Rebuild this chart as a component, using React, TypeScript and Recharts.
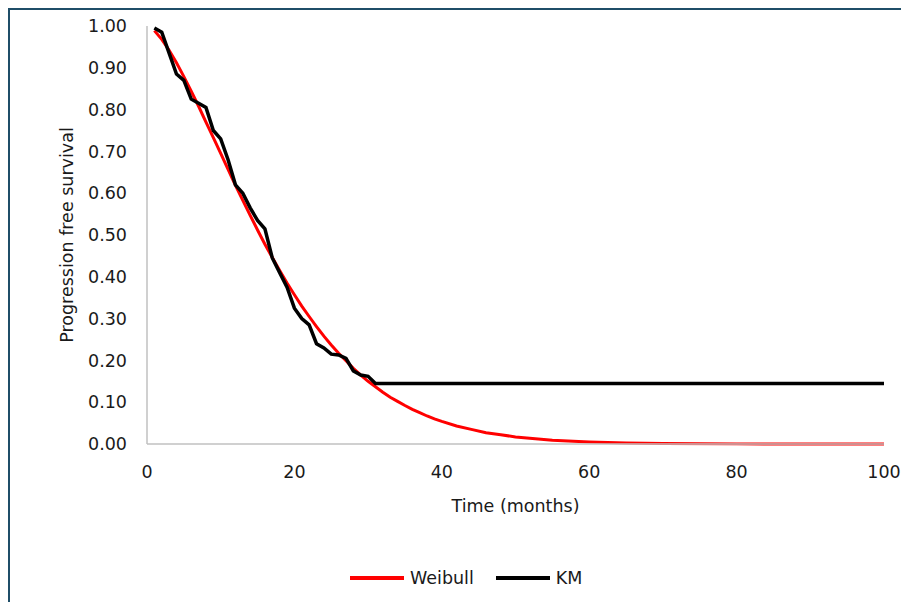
import { Label, Line, LineChart, XAxis, YAxis } from "recharts";

// KM estimate (months, survival)
const kmMonths = [1, 2, 3, 4, 5, 6, 7, 8, 9, 10, 11, 12, 13, 14, 15, 16, 17, 18, 19, 20, 21, 22, 23, 24, 25, 26, 27, 28, 29, 30, 31, 100];
const kmSurvival = [
  0.995, 0.985, 0.935, 0.885, 0.87, 0.825, 0.815, 0.805, 0.75, 0.73, 0.68, 0.62, 0.6, 0.565, 0.535, 0.515,
  0.445, 0.41, 0.375, 0.325, 0.3, 0.285, 0.24, 0.23, 0.215, 0.213, 0.205, 0.175, 0.165, 0.162, 0.145, 0.145,
];

// fitted Weibull curve
const weibullMonths = [
  1, 2, 3, 4, 5, 6, 7, 8, 9, 10, 11, 12, 13, 14, 15, 16, 17, 18, 19, 20, 21, 22, 23, 24, 25, 26, 27, 28, 29, 30,
  31, 32, 33, 34, 35, 36, 37, 38, 39, 40, 42, 44, 46, 48, 50, 55, 60, 65, 70, 80, 90, 100,
];
const weibullSurvival = [
  0.989, 0.968, 0.942, 0.912, 0.879, 0.844, 0.808, 0.77, 0.733, 0.695, 0.657, 0.619, 0.583, 0.547, 0.512,
  0.478, 0.446, 0.415, 0.385, 0.357, 0.33, 0.305, 0.281, 0.258, 0.237, 0.217, 0.199, 0.181, 0.165, 0.15,
  0.137, 0.124, 0.112, 0.102, 0.092, 0.083, 0.075, 0.067, 0.06, 0.054, 0.043, 0.035, 0.027, 0.022, 0.017,
  0.009, 0.005, 0.0024, 0.0012, 0.0003, 0.0001, 0,
];

const xTicks = [0, 20, 40, 60, 80, 100];
const yTicks = [0, 0.1, 0.2, 0.3, 0.4, 0.5, 0.6, 0.7, 0.8, 0.9, 1];

const kmData = kmMonths.map((t, i) => ({ t, s: kmSurvival[i] }));
const weibullData = weibullMonths.map((t, i) => ({ t, s: weibullSurvival[i] }));

const FONT = "DejaVu Sans";
const FONT_SIZE = 17.5;
const TEXT = "#1a1a1a";
const AXIS = "#c0c0c0";

const legendItems = [
  { name: "Weibull", color: "#ff0000" },
  { name: "KM", color: "#000000" },
];

export default function App() {
  return (
    <div
      style={{
        position: "relative",
        width: 899,
        height: 592,
        borderTop: "2px solid #1f4e68",
        borderLeft: "2px solid #1f4e68",
        background: "#fff",
        fontFamily: FONT,
      }}
    >
      <LineChart width={899} height={592} margin={{ top: 16, right: 25, left: 0, bottom: 78 }}>
        <XAxis
          type="number"
          dataKey="t"
          domain={[0, 100]}
          ticks={xTicks}
          tickLine={false}
          tickMargin={16}
          axisLine={{ stroke: AXIS, strokeWidth: 1.5 }}
          tick={{ fill: TEXT, fontSize: FONT_SIZE, fontFamily: FONT }}
          height={80}
        >
          <Label
            content={({ viewBox }: any) => (
              <text
                x={viewBox.x + viewBox.width / 2}
                y={viewBox.y + 62}
                textAnchor="middle"
                dominantBaseline="central"
                fill={TEXT}
                fontSize={FONT_SIZE}
                fontFamily={FONT}
              >
                Time (months)
              </text>
            )}
          />
        </XAxis>
        <YAxis
          type="number"
          domain={[0, 1]}
          ticks={yTicks}
          tickFormatter={(v: number) => v.toFixed(2)}
          tickLine={false}
          tickMargin={14}
          axisLine={{ stroke: AXIS, strokeWidth: 1.5 }}
          tick={{ fill: TEXT, fontSize: FONT_SIZE, fontFamily: FONT }}
          width={137}
        >
          <Label
            content={({ viewBox }: any) => {
              const cx = 57;
              const cy = viewBox.y + viewBox.height / 2;
              return (
                <text
                  x={cx}
                  y={cy}
                  transform={`rotate(-90, ${cx}, ${cy})`}
                  textAnchor="middle"
                  dominantBaseline="central"
                  fill={TEXT}
                  fontSize={FONT_SIZE}
                  fontFamily={FONT}
                >
                  Progression free survival
                </text>
              );
            }}
          />
        </YAxis>
        <Line
          data={weibullData}
          dataKey="s"
          name="Weibull"
          stroke="#ff0000"
          strokeWidth={3}
          dot={false}
          type="linear"
          isAnimationActive={false}
        />
        <Line
          data={kmData}
          dataKey="s"
          name="KM"
          stroke="#000000"
          strokeWidth={3.5}
          dot={false}
          type="linear"
          isAnimationActive={false}
        />
      </LineChart>
      <div
        style={{
          position: "absolute",
          left: 340,
          top: 558,
          height: 20,
          display: "flex",
          alignItems: "center",
          fontSize: FONT_SIZE,
          color: TEXT,
        }}
      >
        {legendItems.map((item, i) => (
          <div key={item.name} style={{ display: "flex", alignItems: "center", marginLeft: i ? 22 : 0 }}>
            <span style={{ display: "inline-block", width: 54, height: 3.5, background: item.color, marginRight: 6 }} />
            <span>{item.name}</span>
          </div>
        ))}
      </div>
    </div>
  );
}
